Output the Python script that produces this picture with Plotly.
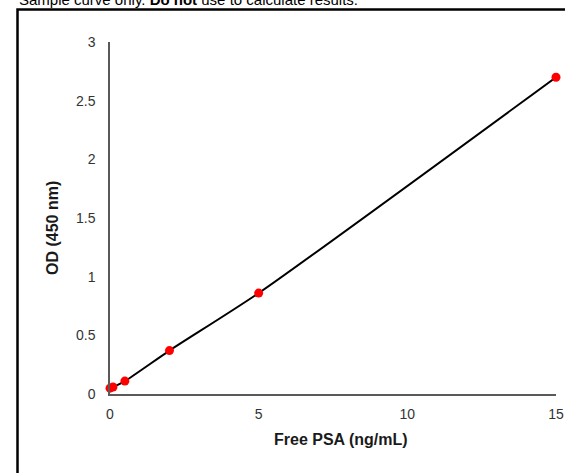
import plotly.graph_objects as go

conc = [0, 0.1, 0.5, 2, 5, 15]
od = [0.05, 0.06, 0.11, 0.37, 0.86, 2.70]
x_ticks = [0, 5, 10, 15]
y_ticks = [0, 0.5, 1, 1.5, 2, 2.5, 3]
y_tick_text = ["0", "0.5", "1", "1.5", "2", "2.5", "3"]

W, H = 565, 473
L, R, T, B = 110, 9, 42, 79
pw, ph = W - L - R, H - T - B

def px_x(p):
    return (p - L) / pw

def px_y(p):
    return (H - B - p) / ph

fig = go.Figure()
fig.add_trace(go.Scatter(x=conc, y=od, mode="lines", line=dict(color="black", width=2, shape="spline", smoothing=0.6),
                         hoverinfo="skip", showlegend=False, cliponaxis=False))
fig.add_trace(go.Scatter(x=conc, y=od, mode="markers", marker=dict(color="#ff0000", size=9),
                         showlegend=False, cliponaxis=False))

font = "Liberation Sans, Arial, sans-serif"
fig.update_layout(
    width=W, height=H,
    margin=dict(l=L, r=R, t=T, b=B, autoexpand=False),
    paper_bgcolor="white", plot_bgcolor="white",
    font=dict(family=font, size=14, color="#404040"),
    xaxis=dict(range=[0, 15], tickvals=x_ticks, showgrid=False, zeroline=False, automargin=False,
               showline=True, linecolor="#595959", linewidth=1.5, ticks="", ticklen=0,
               ticklabelstandoff=6,
               tickfont=dict(size=14, color="#333333"), fixedrange=True),
    yaxis=dict(range=[0, 3], tickvals=y_ticks, ticktext=y_tick_text, showgrid=False, zeroline=False, automargin=False,
               showline=True, linecolor="#595959", linewidth=1.5, ticks="", ticklen=0,
               ticklabelstandoff=10,
               tickfont=dict(size=14, color="#333333"), fixedrange=True),
    shapes=[dict(type="rect", xref="paper", yref="paper",
                 x0=px_x(17.5), x1=px_x(600), y0=px_y(520), y1=px_y(9.5),
                 line=dict(color="black", width=2.5), fillcolor="rgba(0,0,0,0)", layer="below")],
    annotations=[
        dict(text="Sample curve only. <b>Do not</b> use to calculate results.", xref="paper", yref="paper",
             x=px_x(17), y=px_y(0), xanchor="left", yanchor="middle", showarrow=False,
             font=dict(size=15, color="black", family=font)),
        dict(text="<b>Free PSA (ng/mL)</b>", xref="paper", yref="paper",
             x=px_x(341), y=px_y(439), xanchor="center", yanchor="middle", showarrow=False,
             font=dict(size=16, color="#1a1a1a", family=font)),
        dict(text="<b>OD (450 nm)</b>", xref="paper", yref="paper",
             x=px_x(53), y=px_y(228), xanchor="center", yanchor="middle", textangle=-90, showarrow=False,
             font=dict(size=16, color="#1a1a1a", family=font)),
    ],
)

fig.write_html("out.html", config={"displayModeBar": False},
               post_script="document.body.style.margin='0';")
